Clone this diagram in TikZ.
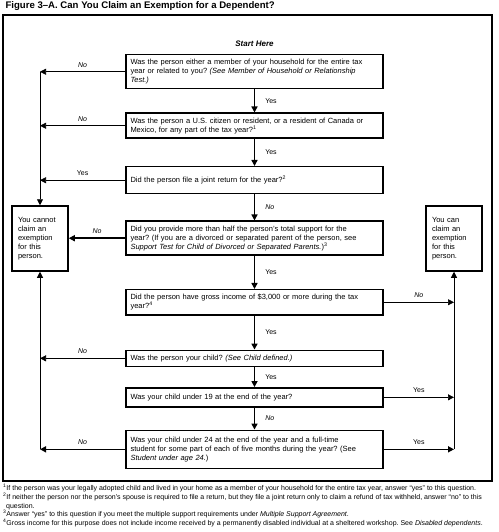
\documentclass[tikz,border=0pt]{standalone}
\usepackage{fontspec}
\setmainfont{Liberation Sans}
\usetikzlibrary{arrows.meta,positioning}
\frenchspacing

\begin{document}
\begin{tikzpicture}[
    x=1pt, y=-1pt,
    node distance=24pt,
    question/.style={rectangle, draw=black, line width=1.5pt, text width=248pt, align=left, inner xsep=4.5pt, inner ysep=4.5pt, font=\fontsize{7.5}{9}\selectfont},
    result/.style={rectangle, draw=black, line width=1.5pt, text width=44pt, minimum width=56pt, minimum height=65pt, align=left, inner xsep=6pt, font=\fontsize{7.5}{9}\selectfont},
    flow/.style={line width=1.5pt},
    branch/.style={line width=0.7pt},
    yeslabel/.style={font=\fontsize{7}{8}\selectfont, inner sep=1pt},
    nolabel/.style={font=\fontsize{7}{8}\selectfont\itshape, inner sep=1pt},
    >={Triangle[length=6pt,width=6pt]}
]
\useasboundingbox (0,0) rectangle (498,532);

% title and frame
\node[anchor=west, font=\fontsize{9.6}{10}\selectfont\bfseries] (title) at (2,6) {Figure 3--A. Can You Claim an Exemption for a Dependent?};
\draw[line width=1.6pt] (3,15) rectangle (492,481);

% questions
\node[question, anchor=north] (q1) at (254.5,54) {Was the person either a member of your household for the entire tax\\ year or related to you? \textit{(See Member of Household or Relationship\\ Test.)}};
\node[font=\fontsize{8}{9}\selectfont\bfseries\itshape, above=4pt of q1] (start) {Start Here};
\node[question, below=23pt of q1] (q2) {Was the person a U.S. citizen or resident, or a resident of Canada or\\ Mexico, for any part of the tax year?\textsuperscript{1}};
\node[question, below=27pt of q2, minimum height=27pt] (q3) {Did the person file a joint return for the year?\textsuperscript{2}};
\node[question, below=26pt of q3] (q4) {Did you provide more than half the person's total support for the\\ year? (If you are a divorced or separated parent of the person, see\\ \textit{Support Test for Child of Divorced or Separated Parents.})\textsuperscript{3}};
\node[question, below=33pt of q4] (q5) {Did the person have gross income of \$3,000 or more during the tax\\ year?\textsuperscript{4}};
\node[question, below=34pt of q5] (q6) {Was the person your child? \textit{(See Child defined.)}};
\node[question, below=20pt of q6, minimum height=19pt] (q7) {Was your child under 19 at the end of the year?};
\node[question, below=22pt of q7, minimum height=38pt] (q8) {Was your child under 24 at the end of the year and a full-time\\ student for some part of each of five months during the year? (See\\ \textit{Student under age 24.})};

% outcomes
\node[result] (cannot) at (40,238.5) {You cannot\\ claim an\\ exemption\\ for this\\ person.};
\node[result] (can) at (454,238.5) {You can\\ claim an\\ exemption\\ for this\\ person.};

\coordinate (ltop) at (q1.west -| cannot.north);
\coordinate (lbot) at (q8.west -| cannot.south);
\coordinate (rbot) at (q8.east -| can.south);

% main line
\draw[flow,->] (q1) -- node[yeslabel, right=9pt] {Yes} (q2);
\draw[flow,->] (q2) -- node[yeslabel, right=9pt] {Yes} (q3);
\draw[flow,->] (q3) -- node[nolabel, right=9pt] {No} (q4);
\draw[flow,->] (q4) -- node[yeslabel, right=9pt] {Yes} (q5);
\draw[flow,->] (q5) -- node[yeslabel, right=9pt] {Yes} (q6);
\draw[flow,->] (q6) -- node[yeslabel, right=9pt] {Yes} (q7);
\draw[flow,->] (q7) -- node[nolabel, right=9pt] {No} (q8);

% to the left
\draw[branch,->] (q1.west) -- node[nolabel, above=3pt] {No} (ltop);
\draw[branch,->] (q2.west) -- node[nolabel, above=3pt] {No} (q2.west -| ltop);
\draw[branch,->] (q3.west) -- node[yeslabel, above=3pt] {Yes} (q3.west -| ltop);
\draw[flow,->] (q4.west) -- node[nolabel, above=3pt] {No} (q4.west -| cannot.east);
\draw[branch,->] (q6.west) -- node[nolabel, above=3pt] {No} (q6.west -| lbot);
\draw[flow,->] (q8.west) -- node[nolabel, above=3pt] {No} (lbot);
\draw[branch,->] (ltop) -- (cannot);
\draw[branch,->] (lbot) -- (cannot);

% to the right
\draw[branch,->] (q5.east) -- node[nolabel, above=3pt] {No} (q5.east -| rbot);
\draw[branch,->] (q7.east) -- node[yeslabel, above=3pt] {Yes} (q7.east -| rbot);
\draw[flow,->] (q8.east) -- node[yeslabel, above=3pt] {Yes} (rbot);
\draw[branch,->] (rbot) -- (can);

% footnotes
\node[anchor=north west, align=left, inner sep=0pt, font=\fontsize{7}{8.7}\selectfont] (notes) at (3,484) {\textsuperscript{1}If the person was your legally adopted child and lived in your home as a member of your household for the entire tax year, answer ``yes'' to this question.\\
\textsuperscript{2}If neither the person nor the person's spouse is required to file a return, but they file a joint return only to claim a refund of tax withheld, answer ``no'' to this\\
\hspace*{3pt}question.\\
\textsuperscript{3}Answer ``yes'' to this question if you meet the multiple support requirements under \textit{Multiple Support Agreement}.\\
\textsuperscript{4}Gross income for this purpose does not include income received by a permanently disabled individual at a sheltered workshop. See \textit{Disabled dependents}.};

\end{tikzpicture}
\end{document}
